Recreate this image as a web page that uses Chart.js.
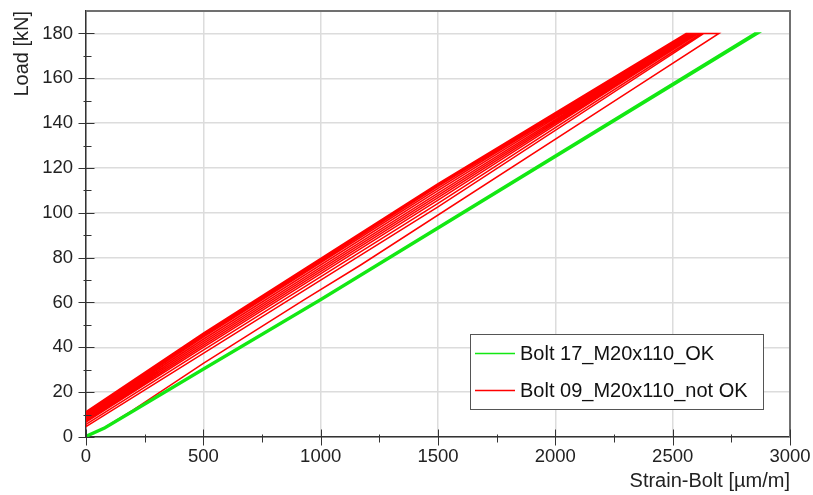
<!DOCTYPE html>
<html>
<head>
<meta charset="utf-8">
<script src="https://cdn.jsdelivr.net/npm/chart.js@4.4.0/dist/chart.umd.min.js"></script>
<style>
  html, body { margin: 0; padding: 0; background: #ffffff; }
  #wrap { width: 813px; height: 495px; }
</style>
</head>
<body>
<div id="wrap"><canvas id="boltChart" width="813" height="495"></canvas></div>
<script>
// series names
var seriesLabels = ['Bolt 17_M20x110_OK', 'Bolt 09_M20x110_not OK'];

// Bolt 17 - load / unload, almost on top of each other
var okStrain = [0, 80, 200, 500, 1000, 2864, 2850, 1000, 500, 200, 80, 0];
var okLoad   = [0, 3.8, 11.2, 30, 61, 180, 180, 61.6, 30.6, 11.8, 4.4, 0.6];

// Bolt 09 - first loading, then several unload / reload cycles
var notOkStrain = [0, 80, 200, 500, 927, 1169, 2322, 2697, 2633, 1500, 500, 0,
  0, 500, 1500, 2622,
  2610, 1500, 500, 0,
  0, 500, 1500, 2603,
  2595, 1500, 500, 0,
  0, 500, 1500, 2587,
  2580, 1500, 500, 0,
  0, 500, 1500, 2572,
  2567, 1500, 500, 0,
  0, 500, 1500, 2562,
  2557, 1500, 500, 0];
var notOkLoad = [0, 4.3, 12, 32.8, 61, 76.6, 154.6, 180, 180, 102.6, 37.3, 4.6,
  5.6, 38.7, 104.2, 180,
  180, 105.7, 40.0, 6.6,
  7.3, 40.9, 106.8, 180,
  180, 107.8, 41.8, 8.0,
  8.6, 42.7, 108.8, 180,
  180, 109.9, 43.6, 9.3,
  10.0, 44.5, 110.9, 180,
  180, 111.8, 45.2, 10.5,
  10.9, 45.8, 112.4, 180,
  180, 113.0, 46.3, 11.3];

// axis ranges / tick steps
var xRange = [0, 3000], xStep = 500;
var yRange = [0, 190], yStep = 20;

var FONT = "Arial, 'Liberation Sans', sans-serif";

function toPoints(xs, ys) {
  return xs.map(function(x, i) { return { x: x, y: ys[i] }; });
}

// frame on top/right + ticks that cross the axis lines (major and minor)
var axisFrame = {
  id: 'axisFrame',
  afterDraw: function(chart) {
    var ctx = chart.ctx, a = chart.chartArea;
    var xs = chart.scales.x, ys = chart.scales.y;
    ctx.save();
    ctx.strokeStyle = '#707070';
    ctx.lineWidth = 2;
    ctx.beginPath();
    ctx.moveTo(a.left, a.top);
    ctx.lineTo(a.right, a.top);
    ctx.lineTo(a.right, a.bottom);
    ctx.stroke();

    ctx.strokeStyle = '#333333';
    ctx.lineWidth = 1;
    var ax = Math.round(a.left) + 0.5, ay = Math.round(a.bottom) + 0.5;
    ctx.beginPath();
    ys.ticks.forEach(function(t) {
      var py = Math.round(ys.getPixelForValue(t.value)) + 0.5;
      ctx.moveTo(ax - 8, py); ctx.lineTo(ax + 8, py);
      var mid = t.value + yStep / 2;
      if (mid < yRange[1]) {
        var my = Math.round(ys.getPixelForValue(mid)) + 0.5;
        ctx.moveTo(ax - 3, my); ctx.lineTo(ax + 5, my);
      }
    });
    xs.ticks.forEach(function(t) {
      var px = Math.round(xs.getPixelForValue(t.value)) + 0.5;
      ctx.moveTo(px, ay - 8); ctx.lineTo(px, ay + 8);
      var mid = t.value + xStep / 2;
      if (mid < xRange[1]) {
        var mx = Math.round(xs.getPixelForValue(mid)) + 0.5;
        ctx.moveTo(mx, ay - 3); ctx.lineTo(mx, ay + 5);
      }
    });
    ctx.stroke();
    ctx.restore();
  }
};

// boxed legend inside the plot, lower right
var boxLegend = {
  id: 'boxLegend',
  afterDraw: function(chart) {
    var ctx = chart.ctx;
    var bx = 470.5, by = 334.5, bw = 293, bh = 75;
    ctx.save();
    ctx.fillStyle = '#ffffff';
    ctx.fillRect(bx, by, bw, bh);
    ctx.strokeStyle = '#555555';
    ctx.lineWidth = 1;
    ctx.strokeRect(bx, by, bw, bh);
    ctx.font = '20px ' + FONT;
    ctx.textBaseline = 'middle';
    chart.data.datasets.forEach(function(ds, i) {
      var cy = 353 + i * 37;
      ctx.strokeStyle = ds.borderColor;
      ctx.lineWidth = 1.3;
      ctx.beginPath();
      ctx.moveTo(475, cy + 0.5); ctx.lineTo(515, cy + 0.5);
      ctx.stroke();
      ctx.fillStyle = '#111111';
      ctx.fillText(ds.label, 520, cy + 1);
    });
    ctx.restore();
  }
};

var ctx = document.getElementById('boltChart').getContext('2d');
new Chart(ctx, {
  type: 'scatter',
  data: {
    datasets: [{
      label: seriesLabels[0],
      data: toPoints(okStrain, okLoad),
      showLine: true,
      borderColor: '#13e813',
      borderWidth: 2.2,
      pointRadius: 0,
      tension: 0
    }, {
      label: seriesLabels[1],
      data: toPoints(notOkStrain, notOkLoad),
      showLine: true,
      borderColor: '#ff0000',
      borderWidth: 1.5,
      pointRadius: 0,
      tension: 0
    }]
  },
  options: {
    responsive: false,
    animation: false,
    events: [],
    layout: { padding: { left: 0, top: 11, right: 23, bottom: 0 } },
    plugins: {
      legend: { display: false },
      tooltip: { enabled: false }
    },
    scales: {
      x: {
        type: 'linear',
        min: xRange[0], max: xRange[1],
        afterFit: function(s) { s.height = 58; s.paddingLeft = 0; s.paddingRight = 0; },
        grid: { color: '#dcdcdc', lineWidth: 1.5, drawTicks: false },
        border: { color: '#333333', width: 1.5 },
        ticks: {
          stepSize: xStep,
          padding: 9,
          color: '#222222',
          maxRotation: 0,
          callback: function(v) { return String(v); },
          font: { family: FONT, size: 18.5 }
        },
        title: {
          display: true,
          text: 'Strain-Bolt [µm/m]',
          align: 'end',
          color: '#222222',
          padding: { top: 0, bottom: 2 },
          font: { family: FONT, size: 20 }
        }
      },
      y: {
        type: 'linear',
        min: yRange[0], max: yRange[1],
        afterFit: function(s) { s.width = 86; s.paddingTop = 0; s.paddingBottom = 0; },
        grid: { color: '#dcdcdc', lineWidth: 1.5, drawTicks: false },
        border: { color: '#333333', width: 1.5 },
        ticks: {
          stepSize: yStep,
          includeBounds: false,
          padding: 13,
          color: '#222222',
          callback: function(v) { return String(v); },
          font: { family: FONT, size: 18.5 }
        },
        title: {
          display: true,
          text: 'Load [kN]',
          align: 'end',
          color: '#222222',
          padding: { top: 10, bottom: 0 },
          font: { family: FONT, size: 20 }
        }
      }
    }
  },
  plugins: [axisFrame, boxLegend]
});
</script>
</body>
</html>
